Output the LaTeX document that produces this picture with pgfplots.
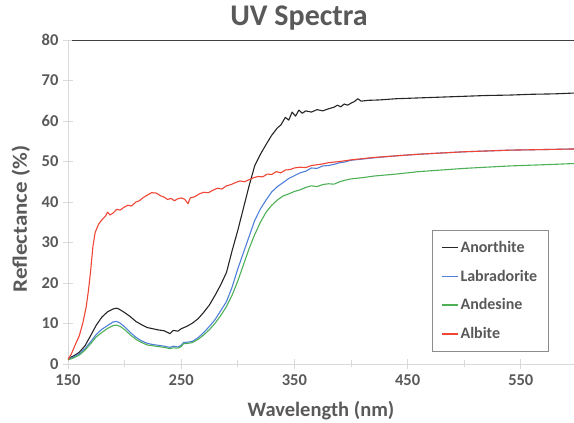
\documentclass[border=0pt]{standalone}
\usepackage{fontspec}
\setmainfont{Carlito}
\usepackage{pgfplots}
\pgfplotsset{compat=1.18}
\definecolor{txtgray}{HTML}{595959}
\definecolor{axgray}{HTML}{D9D9D9}
\definecolor{cAnor}{HTML}{262626}
\definecolor{cLab}{HTML}{4F7FD8}
\definecolor{cAnd}{HTML}{4DB056}
\definecolor{cAlb}{HTML}{F04535}

\begin{document}
\begin{tikzpicture}[x=1pt,y=1pt]
\useasboundingbox (0,0) rectangle (574,423);
\begin{axis}[
  at={(68pt,59pt)}, anchor=south west,
  scale only axis, width=506pt, height=324pt,
  xmin=150, xmax=597, ymin=0, ymax=80,
  axis x line*=bottom, axis y line*=left,
  axis line style={draw=axgray, line width=0.9pt, -},
  xtick={150,250,...,550}, minor xtick={200,300,400,500},
  ytick={0,10,...,80},
  tick align=center,
  tick style={draw=axgray, line width=0.9pt},
  major tick length=10pt, minor tick length=7pt,
  ticklabel style={font=\fontsize{16.5}{18}\selectfont\bfseries, text=txtgray},
  /pgf/number format/assume math mode=true,
  xticklabel style={yshift=-2pt},
  yticklabel style={xshift=-1pt},
  title={UV Spectra},
  title style={at={(axis description cs:0.4565,1.05)}, anchor=center, yshift=0pt,
    font=\fontsize{30}{34}\selectfont\bfseries, text=txtgray},
  xlabel={Wavelength (nm)},
  ylabel={\scalebox{1.12}[1]{Reflectance (\%)}},
  xlabel style={at={(axis description cs:0.5,-0.145)}, anchor=center,
    font=\fontsize{20.5}{24}\selectfont\bfseries, text=txtgray},
  ylabel style={at={(axis description cs:-0.093,0.4475)}, anchor=center,
    font=\fontsize{20.5}{24}\selectfont\bfseries, text=txtgray},
  legend style={at={(axis description cs:0.719,0.414)}, anchor=north west,
    draw=gray!90, line width=0.9pt, font=\fontsize{16}{18}\selectfont\bfseries,
    text=txtgray, row sep=12pt, inner xsep=9pt, inner ysep=9pt},
  legend cell align=left,
  legend image code/.code={\draw[#1, line width=1.3pt] (0pt,0pt) -- (16pt,0pt);},
  every axis plot/.append style={line width=1.1pt},
  clip=true,
]
% Anorthite
\addplot[draw=cAnor, line join=round] coordinates {
(150,1.3) (155,2.0) (160,2.9) (165,4.5) (170,7.0) (175,9.6) (180,11.6) (185,12.9)
(190,13.6) (193,13.8) (196,13.4) (200,12.7) (205,11.7) (210,10.5) (215,9.7) (220,9.0)
(225,8.7) (230,8.4) (235,8.2) (240,7.5) (243,8.3) (247,8.1) (250,8.7) (255,9.3)
(260,10.1) (265,11.2) (270,12.8) (275,14.6) (280,17.0) (285,19.6) (290,22.6) (295,28.0)
(300,33.0) (305,38.5) (310,44.0) (315,49.0) (320,51.8) (325,54.2) (330,56.5) (335,58.3)
(338,59.0) (342,60.9) (345,60.2) (348,62.2) (351,61.2) (354,62.7) (357,61.9) (360,62.5)
(365,62.2) (370,62.8) (375,62.5) (380,63.0) (385,63.4) (388,63.9) (391,63.5) (394,64.2)
(397,63.9) (400,64.4) (403,64.8) (406,65.5) (409,64.9) (415,65.1) (425,65.2) (440,65.5)
(460,65.7) (480,65.9) (500,66.1) (520,66.3) (540,66.4) (560,66.6) (580,66.7) (597,66.9)
};
% Labradorite
\addplot[draw=cLab, line join=round] coordinates {
(150,1.2) (155,1.7) (160,2.5) (165,3.8) (170,5.5) (175,7.3) (180,8.6) (185,9.5)
(190,10.4) (193,10.5) (196,10.1) (200,9.2) (205,7.8) (210,6.6) (215,5.7) (220,5.1)
(225,4.8) (230,4.6) (235,4.4) (240,4.1) (243,4.4) (247,4.2) (250,4.6) (252,5.3)
(256,5.4) (260,5.6) (265,6.5) (270,7.8) (275,9.3) (280,11.0) (285,13.2) (290,15.4)
(295,19.0) (300,23.5) (305,27.5) (310,31.5) (315,35.5) (320,38.3) (325,40.5) (330,42.5)
(335,43.8) (340,44.8) (345,45.8) (350,46.5) (355,47.2) (360,47.6) (365,48.4) (370,48.3)
(375,48.9) (380,49.0) (385,49.3) (390,49.7) (395,49.9) (400,50.3) (410,50.6) (420,50.9)
(440,51.4) (460,51.8) (480,52.1) (500,52.4) (520,52.6) (540,52.8) (560,52.9) (580,53.0)
(597,53.1)
};
% Andesine
\addplot[draw=cAnd, line join=round] coordinates {
(150,1.0) (155,1.5) (160,2.2) (165,3.4) (170,5.0) (175,6.7) (180,7.8) (185,8.8)
(190,9.5) (193,9.6) (196,9.3) (200,8.5) (205,7.2) (210,6.1) (215,5.3) (220,4.7)
(225,4.5) (230,4.3) (235,4.1) (240,3.8) (243,4.0) (247,3.9) (250,4.3) (252,5.0)
(256,5.1) (260,5.3) (265,6.1) (270,7.2) (275,8.5) (280,10.1) (285,12.0) (290,14.2)
(295,17.0) (300,20.5) (305,24.5) (310,28.5) (315,32.0) (320,35.0) (325,37.5) (330,39.2)
(335,40.5) (340,41.5) (345,42.0) (350,42.6) (355,43.0) (360,43.6) (365,44.0) (370,43.8)
(375,44.3) (380,44.5) (385,44.4) (390,45.0) (395,45.4) (400,45.7) (410,46.0) (420,46.4)
(440,46.9) (460,47.5) (480,47.9) (500,48.3) (520,48.6) (540,48.9) (560,49.1) (580,49.3)
(597,49.5)
};
% Albite
\addplot[draw=cAlb, line join=round] coordinates {
(150,1.1) (153,2.5) (156,4.5) (160,7.0) (163,10.0) (166,14.0) (168,18.0) (170,23.0)
(172,29.0) (174,32.5) (177,34.5) (180,35.6) (183,36.5) (185,37.5) (187,36.8) (190,37.3)
(193,38.2) (196,38.0) (200,38.8) (203,39.2) (206,39.0) (210,40.0) (213,40.3) (216,41.0)
(220,41.7) (224,42.3) (228,42.2) (232,41.5) (235,41.2) (238,40.6) (241,40.9) (244,40.3)
(247,40.8) (250,41.0) (253,40.7) (256,39.6) (258,41.0) (262,41.3) (266,42.0) (270,42.4)
(274,42.3) (278,42.9) (282,43.4) (286,43.2) (290,44.0) (294,44.3) (298,44.8) (302,45.2)
(306,45.0) (310,45.5) (314,46.0) (318,46.3) (322,46.2) (326,46.9) (330,46.8) (334,47.5)
(338,47.2) (342,47.9) (346,48.0) (350,48.4) (355,48.6) (360,48.5) (365,49.0) (370,49.2)
(375,49.4) (380,49.7) (390,50.0) (400,50.4) (410,50.7) (420,51.0) (440,51.4) (460,51.8)
(480,52.1) (500,52.4) (520,52.6) (540,52.8) (560,52.9) (580,53.0) (597,53.1)
};
\legend{Anorthite,Labradorite,Andesine,Albite}
% top border line at 80
\draw[draw=black!75, line width=0.9pt] (rel axis cs:0.008,1) -- (rel axis cs:1,1);
\end{axis}
\end{tikzpicture}
\end{document}
